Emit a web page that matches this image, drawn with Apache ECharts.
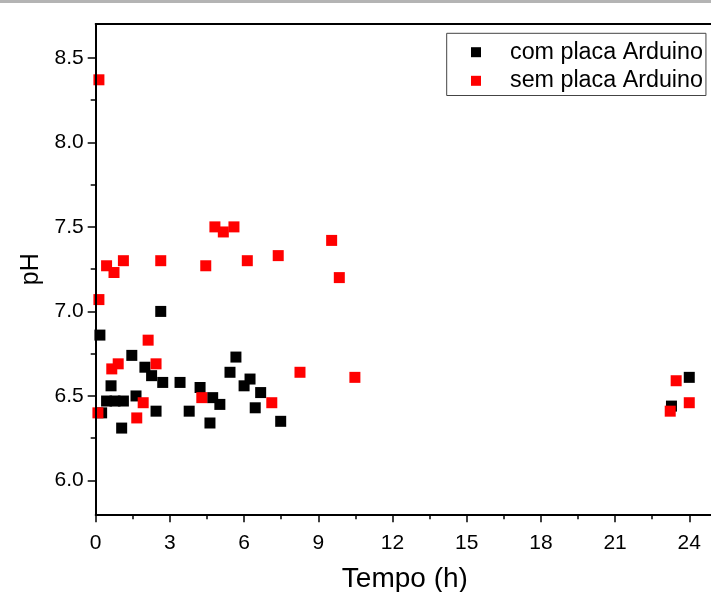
<!DOCTYPE html>
<html>
<head>
<meta charset="utf-8">
<script src="https://cdn.jsdelivr.net/npm/echarts@6/dist/echarts.min.js"></script>
<style>html,body{margin:0;padding:0;background:#fff;}#c{width:711px;height:592px;}</style>
</head>
<body>
<div id="c"></div>
<script>
// ---- data ----
const comTime = [0.17,0.24,0.44,0.62,0.78,1.05,1.12,1.46,1.63,1.99,2.26,2.44,2.63,2.71,3.41,3.78,4.22,4.62,4.73,5.02,5.43,5.67,6.00,6.24,6.45,6.67,7.48,23.28,24.00];
const comPH   = [6.86,6.40,6.47,6.56,6.47,6.31,6.47,6.74,6.50,6.67,6.62,6.41,7.00,6.58,6.58,6.41,6.55,6.34,6.49,6.45,6.64,6.73,6.56,6.60,6.43,6.52,6.35,6.44,6.61];
const semTime = [0.13,0.13,0.09,0.44,0.65,0.74,0.91,1.12,1.66,1.92,2.12,2.44,2.63,4.29,4.45,4.82,5.16,5.59,6.13,7.12,7.38,8.26,9.54,9.85,10.48,23.23,23.47,24.00];
const semPH   = [8.37,7.07,6.40,7.27,6.66,7.23,6.69,7.30,6.37,6.46,6.83,6.69,7.30,6.49,7.27,7.50,7.47,7.50,7.30,6.46,7.33,6.64,7.42,7.20,6.61,6.41,6.59,6.46];
const xMajor = [0,3,6,9,12,15,18,21,24];
const xMinor = [1.5,4.5,7.5,10.5,13.5,16.5,19.5,22.5];
const yMajor = [6.0,6.5,7.0,7.5,8.0,8.5];
const yMinor = [6.25,6.75,7.25,7.75,8.25];
const seriesNames = ['com placa Arduino','sem placa Arduino'];

const FONT = '"Liberation Sans", Arial, sans-serif';
const chart = echarts.init(document.getElementById('c'), null, {renderer:'canvas'});
const zip = (a,b) => a.map((v,i)=>[v,b[i]]);
const noAxisExtras = {splitLine:{show:false}};
chart.setOption({
  animation:false,
  backgroundColor:'#fff',
  graphic:[{type:'rect', shape:{x:0,y:0,width:711,height:3}, style:{fill:'#b4b4b4'}, silent:true}],
  grid:{left:95.7, top:24, right:-3, bottom:77.7, outerBoundsMode:'none', containLabel:false},
  legend:{
    orient:'vertical', left:446.7, top:33.3,
    padding:[7.4,3,3.2,24.3], itemWidth:10, itemHeight:10, itemGap:5.6,
    borderColor:'#444', borderWidth:1, backgroundColor:'#fff',
    textStyle:{fontSize:23.3, lineHeight:22, color:'#000', fontFamily:FONT, padding:[0,0,0,24]},
    data:[{name:seriesNames[0], icon:'rect'},{name:seriesNames[1], icon:'rect'}]
  },
  xAxis:[
    {type:'value', min:0, max:25, position:'bottom', z:5,
     axisLine:{show:true, lineStyle:{color:'#000', width:2}},
     axisTick:{show:true, customValues:xMajor, length:8, lineStyle:{color:'#000', width:1.5}},
     axisLabel:{show:true, customValues:xMajor, fontSize:21, color:'#000', fontFamily:FONT, margin:18},
     name:'Tempo (h)', nameLocation:'middle', nameGap:51,
     nameTextStyle:{fontSize:28, color:'#000', fontFamily:FONT},
     ...noAxisExtras},
    {type:'value', min:0, max:25, position:'bottom', z:5,
     axisLine:{show:false},
     axisTick:{show:true, customValues:xMinor, length:5, lineStyle:{color:'#000', width:1.5}},
     axisLabel:{show:false}, ...noAxisExtras},
    {type:'value', min:0, max:25, position:'top', z:5,
     axisLine:{show:true, lineStyle:{color:'#000', width:2}},
     axisTick:{show:false}, axisLabel:{show:false}, ...noAxisExtras}
  ],
  yAxis:[
    {type:'value', min:5.8, max:8.7, position:'left', z:5,
     axisLine:{show:true, lineStyle:{color:'#000', width:2}},
     axisTick:{show:true, customValues:yMajor, length:8, lineStyle:{color:'#000', width:1.5}},
     axisLabel:{show:true, customValues:yMajor, fontSize:21, color:'#000', fontFamily:FONT, margin:12,
                formatter:v=>Number(v).toFixed(1)},
     name:'pH', nameLocation:'middle', nameGap:50, nameRotate:90,
     nameTextStyle:{fontSize:25, color:'#000', fontFamily:FONT},
     ...noAxisExtras},
    {type:'value', min:5.8, max:8.7, position:'left', z:5,
     axisLine:{show:false},
     axisTick:{show:true, customValues:yMinor, length:5, lineStyle:{color:'#000', width:1.5}},
     axisLabel:{show:false}, ...noAxisExtras}
  ],
  series:[
    {name:seriesNames[0], type:'scatter', xAxisIndex:0, yAxisIndex:0, symbol:'rect', symbolSize:11,
     itemStyle:{color:'#000000', opacity:1}, data:zip(comTime, comPH)},
    {name:seriesNames[1], type:'scatter', xAxisIndex:0, yAxisIndex:0, symbol:'rect', symbolSize:11,
     itemStyle:{color:'#ff0000', opacity:1}, data:zip(semTime, semPH)}
  ]
});
</script>
</body>
</html>
